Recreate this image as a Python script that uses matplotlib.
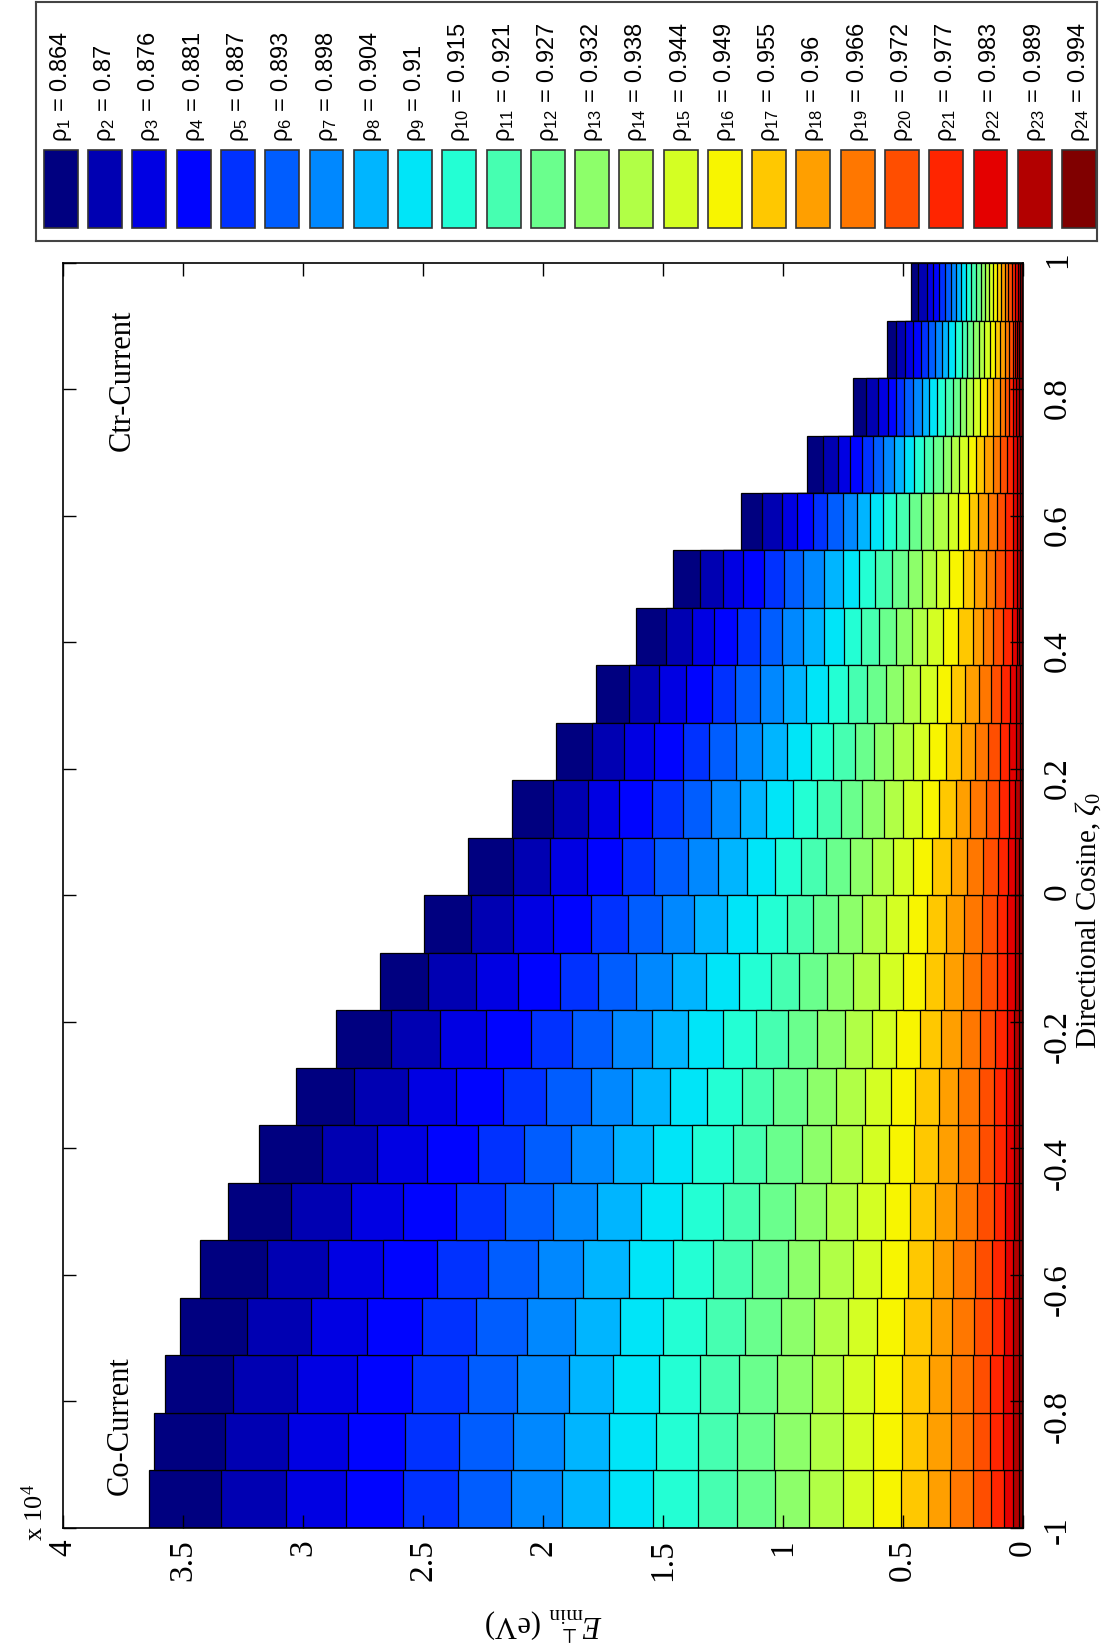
import numpy as np
import matplotlib
matplotlib.use('Agg')
from matplotlib import pyplot as plt
from matplotlib.patches import Rectangle

plt.rcParams['font.family'] = ['Liberation Serif', 'DejaVu Serif']
plt.rcParams['mathtext.fontset'] = 'custom'
plt.rcParams['mathtext.rm'] = 'Liberation Serif'
plt.rcParams['mathtext.it'] = 'Liberation Serif:italic'
plt.rcParams['mathtext.sf'] = 'Liberation Sans'
plt.rcParams['axes.unicode_minus'] = False

# reflectivity levels, one colour each
rho = [0.864, 0.87, 0.876, 0.881, 0.887, 0.893, 0.898, 0.904, 0.91, 0.915, 0.921, 0.927,
       0.932, 0.938, 0.944, 0.949, 0.955, 0.96, 0.966, 0.972, 0.977, 0.983, 0.989, 0.994]

# directional cosine bins (centres)
zeta = [-0.9545, -0.8636, -0.7727, -0.6818, -0.5909, -0.5, -0.4091, -0.3182, -0.2273, -0.1364, -0.0455,
        0.0455, 0.1364, 0.2273, 0.3182, 0.4091, 0.5, 0.5909, 0.6818, 0.7727, 0.8636, 0.9545]

# E_min (x 1e4 eV), one row per zeta bin, columns rho_1 .. rho_24
emin = np.array([
    [3.642, 3.342, 3.071, 2.821, 2.583, 2.354, 2.133, 1.921, 1.725, 1.542, 1.354, 1.192,
     1.033, 0.892, 0.750, 0.625, 0.508, 0.396, 0.304, 0.208, 0.133, 0.079, 0.042, 0.017],
    [3.621, 3.325, 3.063, 2.813, 2.575, 2.350, 2.125, 1.913, 1.725, 1.529, 1.354, 1.192,
     1.038, 0.888, 0.750, 0.625, 0.504, 0.400, 0.300, 0.208, 0.138, 0.083, 0.042, 0.017],
    [3.575, 3.292, 3.025, 2.775, 2.546, 2.313, 2.108, 1.892, 1.708, 1.517, 1.346, 1.183,
     1.025, 0.879, 0.750, 0.621, 0.504, 0.392, 0.300, 0.208, 0.138, 0.083, 0.042, 0.017],
    [3.513, 3.233, 2.967, 2.733, 2.504, 2.279, 2.067, 1.867, 1.680, 1.500, 1.320, 1.160,
     1.010, 0.870, 0.730, 0.610, 0.495, 0.385, 0.295, 0.203, 0.130, 0.077, 0.041, 0.017],
    [3.429, 3.150, 2.896, 2.667, 2.442, 2.229, 2.021, 1.833, 1.640, 1.460, 1.290, 1.130,
     0.980, 0.850, 0.710, 0.590, 0.480, 0.375, 0.290, 0.198, 0.127, 0.075, 0.040, 0.016],
    [3.313, 3.050, 2.800, 2.583, 2.363, 2.158, 1.958, 1.775, 1.590, 1.420, 1.250, 1.100,
     0.950, 0.820, 0.690, 0.575, 0.470, 0.365, 0.280, 0.190, 0.122, 0.073, 0.039, 0.016],
    [3.183, 2.921, 2.692, 2.483, 2.271, 2.079, 1.883, 1.710, 1.540, 1.380, 1.210, 1.070,
     0.920, 0.800, 0.670, 0.560, 0.455, 0.355, 0.270, 0.185, 0.120, 0.070, 0.038, 0.016],
    [3.029, 2.788, 2.563, 2.363, 2.167, 1.988, 1.800, 1.629, 1.471, 1.317, 1.171, 1.042,
     0.900, 0.780, 0.660, 0.550, 0.450, 0.350, 0.270, 0.185, 0.120, 0.070, 0.038, 0.016],
    [2.863, 2.633, 2.429, 2.238, 2.050, 1.879, 1.713, 1.546, 1.396, 1.250, 1.113, 0.979,
     0.858, 0.740, 0.630, 0.530, 0.430, 0.340, 0.260, 0.180, 0.115, 0.068, 0.036, 0.015],
    [2.679, 2.479, 2.279, 2.104, 1.929, 1.771, 1.613, 1.463, 1.321, 1.183, 1.050, 0.933,
     0.817, 0.710, 0.600, 0.500, 0.410, 0.330, 0.250, 0.175, 0.110, 0.066, 0.035, 0.015],
    [2.496, 2.300, 2.125, 1.958, 1.800, 1.646, 1.504, 1.371, 1.233, 1.108, 0.983, 0.875,
     0.770, 0.670, 0.570, 0.480, 0.400, 0.320, 0.245, 0.170, 0.108, 0.065, 0.034, 0.015],
    [2.313, 2.125, 1.971, 1.817, 1.671, 1.538, 1.396, 1.271, 1.150, 1.033, 0.925, 0.821,
     0.720, 0.630, 0.540, 0.460, 0.380, 0.300, 0.235, 0.165, 0.105, 0.063, 0.033, 0.015],
    [2.129, 1.958, 1.813, 1.683, 1.546, 1.417, 1.300, 1.179, 1.071, 0.958, 0.858, 0.760,
     0.670, 0.580, 0.500, 0.420, 0.350, 0.280, 0.220, 0.155, 0.100, 0.060, 0.032, 0.014],
    [1.946, 1.796, 1.663, 1.538, 1.417, 1.308, 1.196, 1.088, 0.983, 0.883, 0.790, 0.700,
     0.620, 0.540, 0.460, 0.390, 0.320, 0.260, 0.200, 0.145, 0.095, 0.057, 0.030, 0.014],
    [1.779, 1.642, 1.517, 1.404, 1.296, 1.200, 1.096, 1.000, 0.904, 0.813, 0.730, 0.650,
     0.570, 0.500, 0.430, 0.360, 0.300, 0.240, 0.185, 0.135, 0.090, 0.055, 0.030, 0.014],
    [1.613, 1.488, 1.379, 1.288, 1.192, 1.096, 1.004, 0.917, 0.829, 0.746, 0.675, 0.600,
     0.529, 0.463, 0.400, 0.333, 0.271, 0.208, 0.167, 0.125, 0.083, 0.046, 0.025, 0.017],
    [1.458, 1.346, 1.250, 1.167, 1.079, 0.996, 0.917, 0.829, 0.750, 0.683, 0.617, 0.546,
     0.479, 0.421, 0.363, 0.308, 0.250, 0.204, 0.154, 0.117, 0.075, 0.042, 0.025, 0.013],
    [1.175, 1.088, 1.004, 0.942, 0.875, 0.817, 0.750, 0.692, 0.638, 0.583, 0.529, 0.475,
     0.425, 0.375, 0.313, 0.271, 0.225, 0.188, 0.146, 0.108, 0.075, 0.042, 0.025, 0.013],
    [0.900, 0.833, 0.771, 0.721, 0.671, 0.625, 0.583, 0.538, 0.496, 0.454, 0.413, 0.375,
     0.333, 0.300, 0.267, 0.229, 0.196, 0.163, 0.125, 0.096, 0.067, 0.042, 0.025, 0.013],
    [0.708, 0.654, 0.604, 0.563, 0.529, 0.496, 0.458, 0.421, 0.392, 0.358, 0.325, 0.292,
     0.263, 0.238, 0.208, 0.179, 0.150, 0.125, 0.096, 0.075, 0.058, 0.042, 0.029, 0.017],
    [0.567, 0.529, 0.492, 0.458, 0.425, 0.396, 0.367, 0.338, 0.313, 0.283, 0.254, 0.233,
     0.208, 0.183, 0.163, 0.138, 0.117, 0.096, 0.075, 0.058, 0.042, 0.033, 0.025, 0.017],
    [0.467, 0.438, 0.400, 0.375, 0.350, 0.325, 0.300, 0.279, 0.258, 0.238, 0.217, 0.196,
     0.175, 0.158, 0.142, 0.125, 0.108, 0.092, 0.075, 0.063, 0.046, 0.033, 0.021, 0.013],
])

e_ticks = [0, 0.5, 1, 1.5, 2, 2.5, 3, 3.5, 4]
z_ticks = [-1, -0.8, -0.6, -0.4, -0.2, 0, 0.2, 0.4, 0.6, 0.8, 1]

colors = plt.cm.jet(np.linspace(0, 1, len(rho)))
bar_w = 2.0 / len(zeta)

fig = plt.figure(figsize=(11.13, 16.52), dpi=100)
ax = fig.add_axes([0.0566, 0.0751, 0.8625, 0.7657])

# figure is laid out turned on its side: energy runs right-to-left, zeta bottom-to-top
for k in range(len(rho)):
    ax.barh(zeta, emin[:, k], height=bar_w, color=colors[k], edgecolor='k', linewidth=0.9)

ax.set_xlim(4, 0)
ax.set_ylim(-1, 1)
ax.set_xticks(e_ticks)
ax.set_xticklabels(['%g' % t for t in e_ticks])
ax.set_yticks(z_ticks)
ax.set_yticklabels(['%g' % t for t in z_ticks])
ax.yaxis.tick_right()
ax.tick_params(axis='both', direction='in', length=9.5, width=1, top=True, bottom=True,
               left=True, right=True, labelsize=24)
ax.tick_params(axis='x', labelrotation=90, pad=8)
ax.tick_params(axis='y', labelrotation=90, pad=14, labelleft=False, labelright=True)
for s in ax.spines.values():
    s.set_linewidth(1.2)

fig.text(1088 / 1113, 1 - 921 / 1652, r'Directional Cosine, $\zeta_0$', rotation=90,
         ha='center', va='center', fontsize=21)
fig.text(543 / 1113, 1 - 1624 / 1652, r'$E^{\perp}_{\rm min}$ (eV)', rotation=180,
         ha='center', va='center', fontsize=22)
fig.text(35 / 1113, 1 - 1541 / 1652, r'x 10$^{4}$', rotation=90, ha='center', va='bottom',
         fontsize=19)
fig.text(120 / 1113, 1 - 1426 / 1652, 'Co-Current', rotation=90, ha='center', va='center',
         fontsize=22)
fig.text(122 / 1113, 1 - 380 / 1652, 'Ctr-Current', rotation=90, ha='center', va='center',
         fontsize=22)

# legend strip across the top
lax = fig.add_axes([36 / 1113, 1 - 241 / 1652, 1061 / 1113, 239 / 1652])
lax.set_xlim(0, 1)
lax.set_ylim(0, 1)
lax.set_xticks([])
lax.set_yticks([])
for s in lax.spines.values():
    s.set_linewidth(1.5)
    s.set_color('#444444')
pitch = 0.04172
for k, r in enumerate(rho):
    x0 = 0.0075 + k * pitch
    lax.add_patch(Rectangle((x0, 0.054), 0.032, 0.326, facecolor=colors[k],
                            edgecolor='#333333', linewidth=1.2))
    lax.text(x0 + 0.016, 0.414, r'$\mathsf{\rho_{%d}}$ = %g' % (k + 1, r), rotation=90,
             ha='center', va='bottom', fontsize=17, family='Liberation Sans')

fig.savefig('out.png', dpi=100)
